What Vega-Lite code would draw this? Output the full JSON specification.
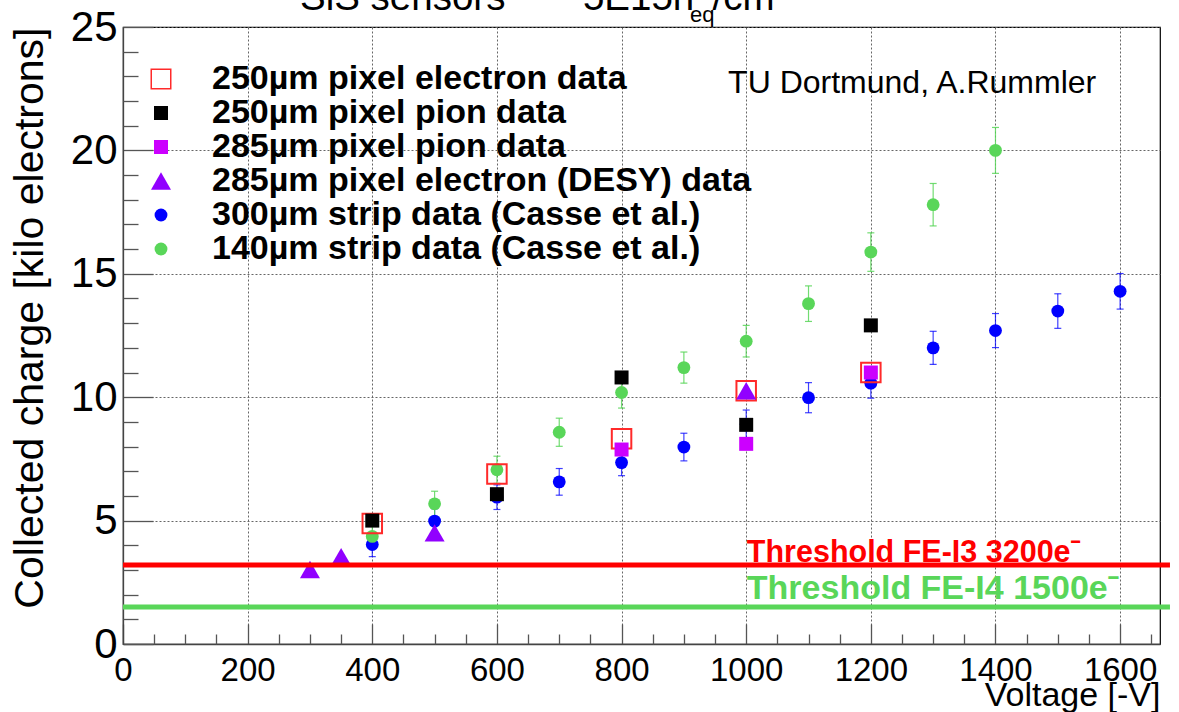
{
  "$schema": "https://vega.github.io/schema/vega-lite/v6.json",
  "autosize": "none",
  "width": 1037,
  "height": 617,
  "padding": {"left": 123, "top": 27, "right": 19, "bottom": 68},
  "background": "white",
  "config": {
    "font": "Liberation Sans",
    "view": {"stroke": "#000", "strokeWidth": 1.2},
    "legend": {
      "labelFont": "Liberation Sans",
      "labelFontSize": 34,
      "labelFontWeight": "bold",
      "labelColor": "#000",
      "labelOffset": 34,
      "labelLimit": 1000,
      "rowPadding": -2,
      "padding": 0,
      "symbolStrokeWidth": 1.5
    }
  },
  "datasets": {
    "measurements": [
      {"series": "300µm strip data (Casse et al.)", "voltage": 400, "charge": 4.03, "err": 0.49},
      {"series": "300µm strip data (Casse et al.)", "voltage": 500, "charge": 4.98, "err": 0.5},
      {"series": "300µm strip data (Casse et al.)", "voltage": 600, "charge": 5.95, "err": 0.5},
      {"series": "300µm strip data (Casse et al.)", "voltage": 700, "charge": 6.57, "err": 0.54},
      {"series": "300µm strip data (Casse et al.)", "voltage": 800, "charge": 7.35, "err": 0.53},
      {"series": "300µm strip data (Casse et al.)", "voltage": 900, "charge": 7.98, "err": 0.56},
      {"series": "300µm strip data (Casse et al.)", "voltage": 1000, "charge": 8.9, "err": 0.58},
      {"series": "300µm strip data (Casse et al.)", "voltage": 1100, "charge": 9.98, "err": 0.61},
      {"series": "300µm strip data (Casse et al.)", "voltage": 1200, "charge": 10.57, "err": 0.61},
      {"series": "300µm strip data (Casse et al.)", "voltage": 1300, "charge": 12.0, "err": 0.67},
      {"series": "300µm strip data (Casse et al.)", "voltage": 1400, "charge": 12.7, "err": 0.69},
      {"series": "300µm strip data (Casse et al.)", "voltage": 1500, "charge": 13.49, "err": 0.7},
      {"series": "300µm strip data (Casse et al.)", "voltage": 1600, "charge": 14.29, "err": 0.72},
      {"series": "140µm strip data (Casse et al.)", "voltage": 400, "charge": 4.36, "err": 0.45},
      {"series": "140µm strip data (Casse et al.)", "voltage": 500, "charge": 5.68, "err": 0.51},
      {"series": "140µm strip data (Casse et al.)", "voltage": 600, "charge": 7.06, "err": 0.55},
      {"series": "140µm strip data (Casse et al.)", "voltage": 700, "charge": 8.58, "err": 0.57},
      {"series": "140µm strip data (Casse et al.)", "voltage": 800, "charge": 10.19, "err": 0.63},
      {"series": "140µm strip data (Casse et al.)", "voltage": 900, "charge": 11.2, "err": 0.63},
      {"series": "140µm strip data (Casse et al.)", "voltage": 1000, "charge": 12.27, "err": 0.64},
      {"series": "140µm strip data (Casse et al.)", "voltage": 1100, "charge": 13.79, "err": 0.72},
      {"series": "140µm strip data (Casse et al.)", "voltage": 1200, "charge": 15.88, "err": 0.78},
      {"series": "140µm strip data (Casse et al.)", "voltage": 1300, "charge": 17.8, "err": 0.86},
      {"series": "140µm strip data (Casse et al.)", "voltage": 1400, "charge": 20.0, "err": 0.93},
      {"series": "250µm pixel electron data", "voltage": 400, "charge": 4.88},
      {"series": "250µm pixel electron data", "voltage": 600, "charge": 6.89},
      {"series": "250µm pixel electron data", "voltage": 800, "charge": 8.32},
      {"series": "250µm pixel electron data", "voltage": 1000, "charge": 10.26},
      {"series": "250µm pixel electron data", "voltage": 1200, "charge": 11.0},
      {"series": "250µm pixel pion data", "voltage": 400, "charge": 5.0},
      {"series": "250µm pixel pion data", "voltage": 600, "charge": 6.07},
      {"series": "250µm pixel pion data", "voltage": 800, "charge": 10.8},
      {"series": "250µm pixel pion data", "voltage": 1000, "charge": 8.88},
      {"series": "250µm pixel pion data", "voltage": 1200, "charge": 12.91},
      {"series": "285µm pixel pion data", "voltage": 800, "charge": 7.88},
      {"series": "285µm pixel pion data", "voltage": 1000, "charge": 8.11},
      {"series": "285µm pixel pion data", "voltage": 1200, "charge": 11.0},
      {"series": "285µm pixel electron (DESY) data", "voltage": 300, "charge": 3.02},
      {"series": "285µm pixel electron (DESY) data", "voltage": 350, "charge": 3.54},
      {"series": "285µm pixel electron (DESY) data", "voltage": 500, "charge": 4.5},
      {"series": "285µm pixel electron (DESY) data", "voltage": 1000, "charge": 10.26}
    ]
  },
  "layer": [
    {
      "data": {"name": "measurements"},
      "transform": [{"filter": "datum.series === '300µm strip data (Casse et al.)'"}],
      "mark": {"type": "errorbar", "color": "#0000ff", "opacity": 0.75, "thickness": 1.2, "ticks": {"size": 7}},
      "encoding": {
        "x": {"field": "voltage", "type": "quantitative", "scale": {"domain": [0, 1664], "nice": false, "zero": false}, "axis": null},
        "y": {"field": "charge", "type": "quantitative", "scale": {"domain": [0, 25], "nice": false, "zero": false}, "axis": null},
        "yError": {"field": "err"}
      }
    },
    {
      "data": {"name": "measurements"},
      "transform": [{"filter": "datum.series === '140µm strip data (Casse et al.)'"}],
      "mark": {"type": "errorbar", "color": "#59d659", "opacity": 0.85, "thickness": 1.2, "ticks": {"size": 7}},
      "encoding": {
        "x": {"field": "voltage", "type": "quantitative", "scale": {"domain": [0, 1664], "nice": false, "zero": false}, "axis": null},
        "y": {"field": "charge", "type": "quantitative", "scale": {"domain": [0, 25], "nice": false, "zero": false}, "axis": null},
        "yError": {"field": "err"}
      }
    },
    {
      "data": {"name": "measurements"},
      "mark": {"type": "point", "opacity": 1},
      "encoding": {
        "x": {
          "field": "voltage", "type": "quantitative",
          "scale": {"domain": [0, 1664], "nice": false, "zero": false},
          "axis": {
            "orient": "bottom",
            "values": [0, 200, 400, 600, 800, 1000, 1200, 1400, 1600],
            "format": "d",
            "tickSize": -20, "tickColor": "#555", "tickWidth": 1.3,
            "domainColor": "#444", "domainWidth": 1.3,
            "labelFontSize": 33, "labelColor": "#000", "labelPadding": 30,
            "labelFlush": false, "labelOverlap": false,
            "grid": true, "gridColor": "#666", "gridDash": [2, 2], "gridWidth": 1,
            "title": "Voltage [-V]", "titleFontSize": 34, "titleFontWeight": "normal", "titleColor": "#000",
            "titleAnchor": "end", "titleAlign": "right", "titleBaseline": "alphabetic",
            "titleX": 1037, "titleY": 61
          }
        },
        "y": {
          "field": "charge", "type": "quantitative",
          "scale": {"domain": [0, 25], "nice": false, "zero": false},
          "axis": {
            "orient": "left",
            "values": [0, 5, 10, 15, 20, 25],
            "tickSize": -30, "tickColor": "#555", "tickWidth": 1.3,
            "domainColor": "#444", "domainWidth": 1.3,
            "labelFontSize": 42, "labelColor": "#000", "labelPadding": 36,
            "labelFlush": false, "labelOverlap": false,
            "grid": true, "gridColor": "#666", "gridDash": [2, 2], "gridWidth": 1,
            "title": "Collected charge [kilo electrons]", "titleFontSize": 41, "titleFontWeight": "normal", "titleColor": "#000",
            "titleAngle": -90, "titleAlign": "right", "titleBaseline": "alphabetic",
            "titleX": -81, "titleY": 0
          }
        },
        "shape": {
          "field": "series", "type": "nominal",
          "scale": {
            "domain": ["250µm pixel electron data", "250µm pixel pion data", "285µm pixel pion data", "285µm pixel electron (DESY) data", "300µm strip data (Casse et al.)", "140µm strip data (Casse et al.)"],
            "range": ["square", "square", "square", "triangle-up", "circle", "circle"]
          },
          "legend": {"orient": "none", "legendX": 21, "legendY": 35, "title": null}
        },
        "fill": {
          "field": "series", "type": "nominal",
          "scale": {
            "domain": ["250µm pixel electron data", "250µm pixel pion data", "285µm pixel pion data", "285µm pixel electron (DESY) data", "300µm strip data (Casse et al.)", "140µm strip data (Casse et al.)"],
            "range": ["transparent", "#000000", "#cc00ff", "#9100ff", "#0000ff", "#59d659"]
          },
          "legend": {"orient": "none", "legendX": 21, "legendY": 35, "title": null}
        },
        "stroke": {
          "field": "series", "type": "nominal",
          "scale": {
            "domain": ["250µm pixel electron data", "250µm pixel pion data", "285µm pixel pion data", "285µm pixel electron (DESY) data", "300µm strip data (Casse et al.)", "140µm strip data (Casse et al.)"],
            "range": ["#ff2a2a", "transparent", "transparent", "transparent", "transparent", "transparent"]
          },
          "legend": {"orient": "none", "legendX": 21, "legendY": 35, "title": null}
        },
        "size": {
          "field": "series", "type": "nominal",
          "scale": {
            "type": "ordinal",
            "domain": ["250µm pixel electron data", "250µm pixel pion data", "285µm pixel pion data", "285µm pixel electron (DESY) data", "300µm strip data (Casse et al.)", "140µm strip data (Casse et al.)"],
            "range": [380, 196, 196, 400, 165, 165]
          },
          "legend": {"orient": "none", "legendX": 21, "legendY": 35, "title": null}
        }
      }
    },
    {
      "data": {"values": [{"threshold": "FE-I3", "level": 3.2}, {"threshold": "FE-I4", "level": 1.5}]},
      "mark": {"type": "rule", "strokeWidth": 5},
      "encoding": {
        "x": {
          "datum": 0, "type": "quantitative",
          "scale": {"domain": [0, 1664], "nice": false, "zero": false},
          "axis": {
            "orient": "bottom",
            "values": [50, 100, 150, 250, 300, 350, 450, 500, 550, 650, 700, 750, 850, 900, 950, 1050, 1100, 1150, 1250, 1300, 1350, 1450, 1500, 1550, 1650],
            "tickSize": -10, "tickColor": "#555", "tickWidth": 1.3,
            "labels": false, "domain": false, "grid": false, "title": null
          }
        },
        "x2": {"datum": 1680},
        "y": {
          "field": "level", "type": "quantitative",
          "scale": {"domain": [0, 25], "nice": false, "zero": false},
          "axis": {
            "orient": "left",
            "values": [1, 2, 3, 4, 6, 7, 8, 9, 11, 12, 13, 14, 16, 17, 18, 19, 21, 22, 23, 24],
            "tickSize": -15, "tickColor": "#555", "tickWidth": 1.3,
            "labels": false, "domain": false, "grid": false, "title": null
          }
        },
        "color": {
          "field": "threshold", "type": "nominal",
          "scale": {"domain": ["FE-I3", "FE-I4"], "range": ["#ff0000", "#59d659"]},
          "legend": null
        }
      }
    },
    {
      "data": {"values": [
        {"label": "Threshold FE-I3 3200eˉ", "voltage": 1001, "charge": 3.32}
      ]},
      "mark": {"type": "text", "align": "left", "baseline": "alphabetic", "fontSize": 30.5, "fontWeight": "bold", "color": "#ff0000"},
      "encoding": {
        "x": {"field": "voltage", "type": "quantitative", "scale": {"domain": [0, 1664], "nice": false, "zero": false}, "axis": null},
        "y": {"field": "charge", "type": "quantitative", "scale": {"domain": [0, 25], "nice": false, "zero": false}, "axis": null},
        "text": {"field": "label"}
      }
    },
    {
      "data": {"values": [
        {"label": "Threshold FE-I4 1500eˉ", "voltage": 1001, "charge": 1.82}
      ]},
      "mark": {"type": "text", "align": "left", "baseline": "alphabetic", "fontSize": 34, "fontWeight": "bold", "color": "#59d659"},
      "encoding": {
        "x": {"field": "voltage", "type": "quantitative", "scale": {"domain": [0, 1664], "nice": false, "zero": false}, "axis": null},
        "y": {"field": "charge", "type": "quantitative", "scale": {"domain": [0, 25], "nice": false, "zero": false}, "axis": null},
        "text": {"field": "label"}
      }
    },
    {
      "data": {"values": [
        {"label": "TU Dortmund, A.Rummler", "voltage": 971, "charge": 22.31}
      ]},
      "mark": {"type": "text", "align": "left", "baseline": "alphabetic", "fontSize": 32, "color": "#000"},
      "encoding": {
        "x": {"field": "voltage", "type": "quantitative", "scale": {"domain": [0, 1664], "nice": false, "zero": false}, "axis": null},
        "y": {"field": "charge", "type": "quantitative", "scale": {"domain": [0, 25], "nice": false, "zero": false}, "axis": null},
        "text": {"field": "label"}
      }
    },
    {
      "data": {"values": [
        {"label": "SiS sensors", "voltage": 284, "charge": 25.68},
        {"label": "5E15n", "voltage": 738, "charge": 25.68},
        {"label": "/cm²", "voltage": 946, "charge": 25.68}
      ]},
      "mark": {"type": "text", "align": "left", "baseline": "alphabetic", "fontSize": 38.5, "color": "#000"},
      "encoding": {
        "x": {"field": "voltage", "type": "quantitative", "scale": {"domain": [0, 1664], "nice": false, "zero": false}, "axis": null},
        "y": {"field": "charge", "type": "quantitative", "scale": {"domain": [0, 25], "nice": false, "zero": false}, "axis": null},
        "text": {"field": "label"}
      }
    },
    {
      "data": {"values": [
        {"label": "eq", "voltage": 910, "charge": 25.22}
      ]},
      "mark": {"type": "text", "align": "left", "baseline": "alphabetic", "fontSize": 22, "color": "#000"},
      "encoding": {
        "x": {"field": "voltage", "type": "quantitative", "scale": {"domain": [0, 1664], "nice": false, "zero": false}, "axis": null},
        "y": {"field": "charge", "type": "quantitative", "scale": {"domain": [0, 25], "nice": false, "zero": false}, "axis": null},
        "text": {"field": "label"}
      }
    }
  ],
  "resolve": {"axis": {"x": "independent", "y": "independent"}}
}
